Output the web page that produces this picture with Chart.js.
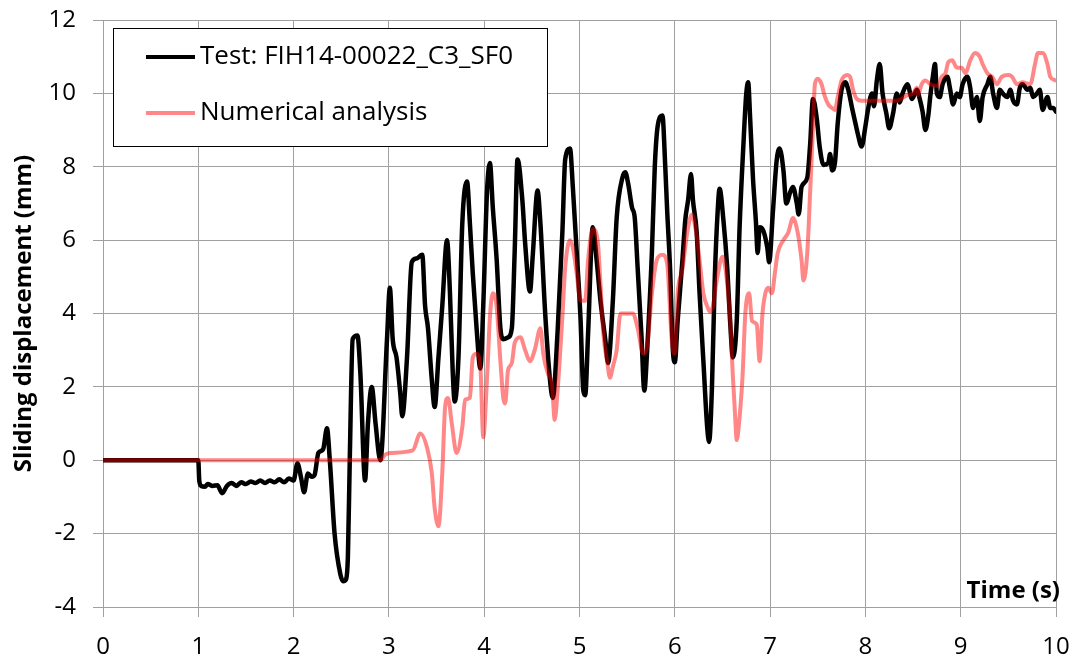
<!DOCTYPE html>
<html>
<head>
<meta charset="utf-8">
<script src="https://cdn.jsdelivr.net/npm/chart.js@4.4.0/dist/chart.umd.min.js"></script>
<style>
  html, body { margin: 0; padding: 0; background: #fff; }
  #wrap { width: 1076px; height: 661px; }
</style>
</head>
<body>
<div id="wrap"><canvas id="slideChart"></canvas></div>
<script>
// shake table record, time (s) / sliding displacement (mm)
const testTime = [
  0, 1.0, 1.01, 1.03, 1.07, 1.1, 1.15, 1.2, 1.25, 1.3, 1.35, 1.4, 1.45, 1.5, 1.55, 1.6, 1.65, 1.7, 1.75, 1.8, 1.85, 1.9, 1.95, 2.0,
  2.04, 2.08, 2.11, 2.15, 2.19, 2.22, 2.26, 2.31, 2.35, 2.38, 2.43, 2.49, 2.52, 2.55, 2.57, 2.59, 2.62, 2.67, 2.70, 2.75, 2.78,
  2.82, 2.86, 2.91, 2.98, 3.01, 3.04, 3.08, 3.12, 3.14, 3.19, 3.24, 3.29, 3.35, 3.38, 3.41, 3.45, 3.48, 3.52, 3.56, 3.61, 3.64,
  3.67, 3.69, 3.73, 3.77, 3.82, 3.85, 3.88, 3.92, 3.96, 3.99, 4.03, 4.06, 4.09, 4.13, 4.17, 4.20, 4.25, 4.29, 4.32, 4.35, 4.40,
  4.43, 4.48, 4.51, 4.56, 4.59, 4.64, 4.69, 4.72, 4.77, 4.82, 4.85, 4.90, 4.93, 4.97, 5.01, 5.04, 5.06, 5.09, 5.14, 5.18, 5.22,
  5.27, 5.30, 5.35, 5.39, 5.45, 5.48, 5.51, 5.55, 5.58, 5.61, 5.65, 5.68, 5.71, 5.76, 5.79, 5.82, 5.87, 5.90, 5.92, 5.95, 5.98,
  6.00, 6.03, 6.08, 6.11, 6.14, 6.17, 6.19, 6.23, 6.26, 6.30, 6.34, 6.36, 6.39, 6.42, 6.45, 6.47, 6.51, 6.55, 6.58, 6.61, 6.65,
  6.68, 6.72, 6.75, 6.77, 6.79, 6.82, 6.85, 6.87, 6.89, 6.93, 6.97, 6.99, 7.03, 7.07, 7.10, 7.14, 7.17, 7.21, 7.24, 7.28, 7.30,
  7.33, 7.39, 7.42, 7.45, 7.49, 7.52, 7.56, 7.61, 7.63, 7.65, 7.68, 7.71, 7.75, 7.79, 7.82, 7.86, 7.89, 7.92, 7.96, 8.00, 8.03,
  8.07, 8.09, 8.12, 8.15, 8.18, 8.22, 8.25, 8.29, 8.33, 8.36, 8.39, 8.44, 8.49, 8.54, 8.57, 8.60, 8.63, 8.66, 8.68, 8.71, 8.73,
  8.75, 8.78, 8.81, 8.86, 8.89, 8.92, 8.96, 8.99, 9.02, 9.07, 9.10, 9.13, 9.17, 9.20, 9.23, 9.28, 9.31, 9.34, 9.38, 9.41, 9.44,
  9.49, 9.52, 9.55, 9.59, 9.62, 9.65, 9.70, 9.73, 9.76, 9.80, 9.83, 9.86, 9.91, 9.94, 9.97, 10.0
];
const testDisp = [
  0, 0, -0.55, -0.7, -0.72, -0.65, -0.7, -0.68, -0.9, -0.7, -0.62, -0.7, -0.6, -0.65, -0.58, -0.62, -0.55, -0.62, -0.55, -0.6, -0.52, -0.6, -0.5, -0.55,
  -0.08, -0.5, -0.87, -0.36, -0.45, -0.4, 0.2, 0.3, 0.87, 0.0, -2.0, -3.1, -3.3, -3.25, -2.6, 0.1, 3.3, 3.4, 2.4, -0.55, 1.0,
  2.0, 1.0, 0.0, 3.3, 4.7, 3.3, 2.8, 1.8, 1.2, 2.8, 5.4, 5.5, 5.6, 4.2, 3.6, 2.2, 1.45, 2.8, 4.2, 6.0, 4.6,
  2.4, 1.6, 2.8, 6.45, 7.6, 6.45, 5.1, 3.6, 2.5, 4.2, 7.35, 8.1, 6.9, 5.5, 3.6, 3.3, 3.35, 3.6, 5.7, 8.2, 7.1,
  5.9, 4.6, 5.6, 7.35, 6.45, 4.0, 2.2, 1.7, 3.5, 6.2, 8.2, 8.5, 7.45, 5.7, 3.9, 1.9, 1.77, 3.45, 6.35, 5.45, 4.35,
  3.3, 2.65, 4.35, 6.6, 7.7, 7.85, 7.55, 6.9, 6.6, 5.25, 3.4, 1.9, 3.0, 5.7, 8.0, 9.1, 9.4, 8.0, 6.8, 5.25, 3.0,
  2.67, 3.8, 5.45, 6.55, 7.1, 7.8, 7.1, 6.2, 4.55, 2.7, 0.9, 0.5, 2.0, 5.0, 6.8, 7.4, 6.55, 5.25, 3.8, 2.8, 3.8,
  6.35, 8.6, 10.0, 10.3, 9.35, 7.7, 6.55, 5.65, 6.35, 6.25, 5.8, 5.4, 6.8, 8.2, 8.5, 7.9, 7.0, 7.3, 7.45, 7.0, 6.7,
  7.45, 7.7, 8.6, 9.85, 9.3, 8.55, 8.05, 8.1, 8.35, 7.9, 8.1, 9.2, 10.1, 10.3, 10.1, 9.6, 9.25, 8.9, 8.55, 9.1, 9.6,
  10.0, 9.65, 10.35, 10.8, 10.0, 9.45, 9.05, 9.45, 10.0, 9.75, 10.0, 10.25, 9.85, 10.1, 9.85, 9.5, 9.0, 9.4, 9.9, 10.5, 10.8,
  10.0, 9.9, 10.25, 10.45, 10.1, 9.7, 10.0, 9.9, 10.25, 10.45, 10.15, 9.6, 9.9, 9.25, 9.9, 10.25, 10.45, 10.0, 9.6, 10.1, 10.0,
  9.9, 10.1, 9.8, 9.7, 10.15, 10.25, 10.1, 10.15, 9.9, 10.0, 10.1, 9.55, 9.9, 9.6, 9.6, 9.5
];

// model prediction
const numTime = [
  0, 2.91, 2.96, 3.01, 3.25, 3.33, 3.40, 3.45, 3.48, 3.52, 3.56, 3.59, 3.62, 3.66, 3.71, 3.77, 3.80, 3.85, 3.88, 3.92, 3.96,
  3.99, 4.03, 4.06, 4.09, 4.13, 4.17, 4.20, 4.22, 4.25, 4.29, 4.32, 4.38, 4.43, 4.48, 4.53, 4.59, 4.62, 4.67, 4.71, 4.74, 4.77,
  4.82, 4.85, 4.90, 4.93, 4.97, 5.01, 5.06, 5.09, 5.14, 5.19, 5.22, 5.25, 5.29, 5.32, 5.35, 5.39, 5.43, 5.56, 5.61, 5.67, 5.71,
  5.76, 5.81, 5.87, 5.92, 5.97, 6.00, 6.03, 6.08, 6.13, 6.18, 6.23, 6.26, 6.30, 6.34, 6.37, 6.40, 6.44, 6.50, 6.53, 6.56, 6.58,
  6.61, 6.63, 6.65, 6.67, 6.71, 6.74, 6.78, 6.81, 6.86, 6.89, 6.92, 6.95, 6.98, 7.02, 7.05, 7.08, 7.14, 7.19, 7.24, 7.29, 7.33,
  7.35, 7.39, 7.42, 7.45, 7.47, 7.50, 7.54, 7.57, 7.61, 7.65, 7.68, 7.71, 7.75, 7.81, 7.84, 7.87, 7.91, 7.96, 8.33, 8.44, 8.50,
  8.54, 8.55, 8.59, 8.63, 8.68, 8.76, 8.80, 8.84, 8.87, 8.91, 8.96, 9.01, 9.05, 9.10, 9.15, 9.20, 9.23, 9.28, 9.33, 9.38, 9.43,
  9.50, 9.54, 9.59, 9.65, 9.73, 9.78, 9.81, 9.86, 9.91, 9.94, 10.0
];
const numDisp = [
  0, 0, 0.15, 0.2, 0.27, 0.73, 0.35, -0.35, -1.3, -1.8, -0.35, 1.45, 1.7, 1.0, 0.2, 0.9, 1.65, 1.7, 2.8, 2.9, 2.55,
  0.63, 2.25, 3.9, 4.55, 4.2, 2.7, 1.7, 1.55, 2.45, 2.65, 3.2, 3.35, 3.0, 2.7, 3.0, 3.6, 2.9, 2.35, 2.1, 1.1, 1.9,
  3.9, 5.25, 6.0, 5.8, 5.1, 4.35, 4.35, 5.45, 6.3, 6.0, 4.8, 3.45, 2.7, 2.25, 2.55, 3.0, 4.0, 4.0, 3.6, 2.9, 3.1,
  4.55, 5.45, 5.6, 5.35, 3.2, 2.9, 4.55, 5.2, 6.2, 6.7, 6.1, 5.45, 4.55, 4.2, 4.05, 4.2, 4.9, 5.55, 5.25, 4.55, 3.9,
  2.25, 1.35, 0.55, 0.9, 2.25, 4.0, 4.55, 3.8, 3.7, 2.7, 4.0, 4.55, 4.7, 4.55, 5.1, 5.65, 6.0, 6.2, 6.6, 6.2, 5.45,
  4.9, 5.65, 7.3, 9.1, 10.25, 10.4, 10.25, 9.95, 9.7, 9.6, 9.55, 9.9, 10.35, 10.5, 10.45, 10.1, 9.85, 9.8, 9.8, 9.95, 10.0,
  10.15, 9.95, 10.25, 10.35, 10.25, 10.2, 10.45, 10.55, 10.85, 10.9, 10.7, 10.7, 10.55, 10.9, 11.1, 11.0, 10.8, 10.55, 10.45, 10.25, 10.45,
  10.5, 10.45, 10.25, 10.3, 10.25, 10.8, 11.1, 11.1, 10.8, 10.45, 10.35
];

const xTickValues = [0, 1, 2, 3, 4, 5, 6, 7, 8, 9, 10];
const yTickValues = [-4, -2, 0, 2, 4, 6, 8, 10, 12];

const seriesLabels = ['Test: FIH14-00022_C3_SF0', 'Numerical analysis'];

const FONT = '"Open Sans", "DejaVu Sans", sans-serif';
const GRID = '#a0a0a0';

function toPoints(xs, ys) {
  return xs.map((x, i) => ({ x: x, y: ys[i] }));
}

// boxed legend in the upper left corner of the plot, plus the x caption
const insideLabels = {
  id: 'insideLabels',
  afterDraw(chart) {
    const { ctx, chartArea: area } = chart;
    const x0 = area.left + 10, y0 = area.top + 8, w = 434, h = 118;
    ctx.save();
    ctx.fillStyle = '#fff';
    ctx.fillRect(x0, y0, w, h);
    ctx.strokeStyle = '#000';
    ctx.lineWidth = 1;
    ctx.strokeRect(x0 + 0.5, y0 + 0.5, w, h);

    ctx.font = '26px ' + FONT;
    ctx.textBaseline = 'middle';
    ctx.textAlign = 'left';
    chart.data.datasets.forEach((ds, i) => {
      const y = y0 + 29 + i * 56;
      ctx.strokeStyle = ds.borderColor;
      ctx.lineWidth = 4;
      ctx.lineCap = 'butt';
      ctx.beginPath();
      ctx.moveTo(x0 + 33, y);
      ctx.lineTo(x0 + 82, y);
      ctx.stroke();
      ctx.fillStyle = '#000';
      ctx.fillText(ds.label, x0 + 87, y);
    });

    ctx.font = 'bold 24px ' + FONT;
    ctx.textAlign = 'right';
    ctx.textBaseline = 'alphabetic';
    ctx.fillStyle = '#000';
    ctx.fillText('Time (s)', area.right + 4, area.bottom - 9);
    ctx.restore();
  }
};

new Chart(document.getElementById('slideChart'), {
  type: 'line',
  data: {
    datasets: [{
      label: seriesLabels[0],
      data: toPoints(testTime, testDisp),
      borderColor: '#000',
      borderWidth: 4.5,
      order: 2
    }, {
      label: seriesLabels[1],
      data: toPoints(numTime, numDisp),
      borderColor: 'rgba(255, 0, 0, 0.47)',
      borderWidth: 4,
      order: 1
    }]
  },
  options: {
    responsive: true,
    maintainAspectRatio: false,
    animation: false,
    layout: { padding: { top: 20, right: 20, bottom: 0, left: 0 } },
    elements: {
      point: { radius: 0 },
      // monotone keeps peaks at the recorded values while rounding the corners
      line: { cubicInterpolationMode: 'monotone', borderJoinStyle: 'round', borderCapStyle: 'round' }
    },
    plugins: {
      legend: { display: false },
      tooltip: { enabled: false }
    },
    scales: {
      x: {
        type: 'linear',
        min: 0,
        max: 10,
        afterBuildTicks: s => { s.ticks = xTickValues.map(v => ({ value: v })); },
        // fixed band height; the end labels may hang into the page margin
        afterFit: s => { s.height = 54; s.paddingLeft = 0; s.paddingRight = 0; },
        grid: { color: GRID, tickLength: 10 },
        border: { color: GRID },
        ticks: { color: '#000', padding: 16, maxRotation: 0, font: { family: FONT, size: 24 } }
      },
      y: {
        min: -4,
        max: 12,
        afterBuildTicks: s => { s.ticks = yTickValues.map(v => ({ value: v })); },
        afterFit: s => { s.width = 103; s.paddingTop = 0; s.paddingBottom = 0; },
        grid: { color: GRID, tickLength: 10 },
        border: { color: GRID },
        ticks: { color: '#000', padding: 17, font: { family: FONT, size: 24 } },
        title: {
          display: true,
          text: 'Sliding displacement (mm)',
          color: '#000',
          padding: { top: 10, bottom: 0 },
          font: { family: FONT, size: 24, weight: 'bold' }
        }
      }
    }
  },
  plugins: [insideLabels]
});
</script>
</body>
</html>
